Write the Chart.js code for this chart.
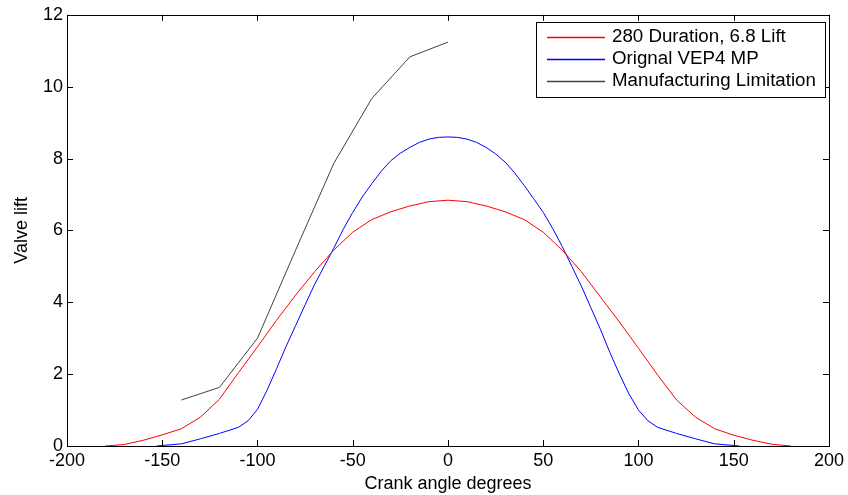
<!DOCTYPE html>
<html><head><meta charset="utf-8">
<script src="https://cdn.jsdelivr.net/npm/chart.js@4.4.1/dist/chart.umd.min.js"></script>
<style>html,body{margin:0;padding:0;background:#fff}#wrap{width:848px;height:495px}</style>
</head><body><div id="wrap"><canvas id="c"></canvas></div>
<script>
const seriesNames = ['280 Duration, 6.8 Lift', 'Orignal VEP4 MP', 'Manufacturing Limitation'];
const seriesColors = ['#ff0000', '#0000ff', '#404040'];
const xTicks = [-200, -150, -100, -50, 0, 50, 100, 150, 200];
const yTicks = [0, 2, 4, 6, 8, 10, 12];

const redX = [-180,-170,-160,-150,-140,-130,-120,-110,-100,-90,-80,-70,-60,-50,-40,-30,-20,-10,0,10,20,30,40,50,60,70,80,90,100,110,120,130,140,150,160,170,180];
const redY = [0,0.04,0.16,0.31,0.48,0.8,1.3,2.04,2.76,3.5,4.2,4.85,5.45,5.95,6.3,6.52,6.68,6.8,6.84,6.8,6.68,6.52,6.3,5.95,5.45,4.85,4.15,3.45,2.72,1.98,1.28,0.8,0.48,0.3,0.16,0.05,0];

const blueX = [-153,-140,-130,-120,-110,-105,-100,-95,-90,-85,-80,-75,-70,-65,-60,-55,-50,-45,-40,-35,-30,-25,-20,-15,-10,-5,0,5,10,15,20,25,30,35,40,45,50,55,60,65,70,75,80,85,90,95,100,105,110,120,130,140,153];
const blueY = [0,0.06,0.2,0.35,0.52,0.7,1.02,1.55,2.15,2.77,3.35,3.93,4.5,5.0,5.5,6.03,6.5,6.93,7.3,7.65,7.94,8.15,8.31,8.45,8.54,8.59,8.6,8.59,8.54,8.45,8.31,8.13,7.9,7.6,7.25,6.88,6.5,6.05,5.55,5.0,4.45,3.85,3.25,2.6,2.0,1.45,1.0,0.7,0.52,0.35,0.2,0.06,0];

const blackX = [-140,-120,-100,-80,-60,-40,-20,0];
const blackY = [1.28,1.63,3.0,5.45,7.86,9.67,10.83,11.24];

const toPts = (xs, ys) => xs.map((x, i) => ({x, y: ys[i]}));

const FONT = '"Liberation Sans", Arial, sans-serif';
const FS = 18;

const frame = {
  id: 'frame',
  afterDraw(chart) {
    const {ctx, chartArea: a, scales} = chart;
    ctx.save();
    ctx.strokeStyle = '#000';
    ctx.lineWidth = 1;
    ctx.strokeRect(Math.round(a.left)+0.5, Math.round(a.top)+0.5, Math.round(a.right-a.left), Math.round(a.bottom-a.top));
    const tl = 6;
    ctx.beginPath();
    xTicks.forEach(v => {
      const p = Math.round(scales.x.getPixelForValue(v)) + 0.5;
      ctx.moveTo(p, a.bottom); ctx.lineTo(p, a.bottom - tl);
      ctx.moveTo(p, a.top); ctx.lineTo(p, a.top + tl);
    });
    yTicks.forEach(v => {
      const p = Math.round(scales.y.getPixelForValue(v)) + 0.5;
      ctx.moveTo(a.left, p); ctx.lineTo(a.left + tl, p);
      ctx.moveTo(a.right, p); ctx.lineTo(a.right - tl, p);
    });
    ctx.stroke();

    // legend box
    const bx = 536, by = 22, bw = 289, bh = 75;
    ctx.fillStyle = '#fff';
    ctx.fillRect(bx, by, bw, bh);
    ctx.strokeStyle = '#000';
    ctx.strokeRect(bx + 0.5, by + 0.5, bw, bh);
    ctx.font = FS + 'px ' + FONT;
    ctx.textBaseline = 'middle';
    seriesNames.forEach((name, i) => {
      const yy = by + 14.5 + i * 22;
      ctx.beginPath();
      ctx.strokeStyle = seriesColors[i];
      ctx.lineWidth = 1.3;
      ctx.moveTo(bx + 11, Math.round(yy) + 0.5);
      ctx.lineTo(bx + 69, Math.round(yy) + 0.5);
      ctx.stroke();
      ctx.fillStyle = '#000';
      ctx.save();
      ctx.translate(bx + 76, yy + 1);
      ctx.scale(1.04, 1);
      ctx.fillText(name, 0, 0);
      ctx.restore();
    });
    ctx.restore();
  }
};

new Chart(document.getElementById('c'), {
  type: 'line',
  data: {
    datasets: [
      {label: seriesNames[0], data: toPts(redX, redY), borderColor: seriesColors[0], borderWidth: 1, pointRadius: 0, tension: 0, fill: false},
      {label: seriesNames[1], data: toPts(blueX, blueY), borderColor: seriesColors[1], borderWidth: 1, pointRadius: 0, tension: 0, fill: false},
      {label: seriesNames[2], data: toPts(blackX, blackY), borderColor: seriesColors[2], borderWidth: 1, pointRadius: 0, tension: 0, fill: false}
    ]
  },
  options: {
    responsive: true,
    maintainAspectRatio: false,
    animation: false,
    layout: {padding: {left: 0, right: 15, top: 14, bottom: 0}},
    plugins: {legend: {display: false}, tooltip: {enabled: false}},
    scales: {
      x: {
        type: 'linear', min: -200, max: 200,
        afterBuildTicks: s => { s.ticks = xTicks.map(v => ({value: v})); },
        afterFit: s => { s.height = 49; },
        grid: {display: false, drawTicks: false},
        border: {display: false},
        ticks: {color: '#000', font: {family: FONT, size: FS}, padding: 4, maxRotation: 0, autoSkip: false},
        title: {display: true, text: 'Crank angle degrees', color: '#000', font: {family: FONT, size: FS}, padding: {top: 0, bottom: 0}}
      },
      y: {
        type: 'linear', min: 0, max: 12,
        afterBuildTicks: s => { s.ticks = yTicks.map(v => ({value: v})); },
        afterFit: s => { s.width = 67; },
        grid: {display: false, drawTicks: false},
        border: {display: false},
        ticks: {color: '#000', font: {family: FONT, size: FS}, padding: 4, autoSkip: false},
        title: {display: true, text: 'Valve lift', color: '#000', font: {family: FONT, size: FS}, padding: {top: 11, bottom: 0}}
      }
    }
  },
  plugins: [frame]
});
</script></body></html>
